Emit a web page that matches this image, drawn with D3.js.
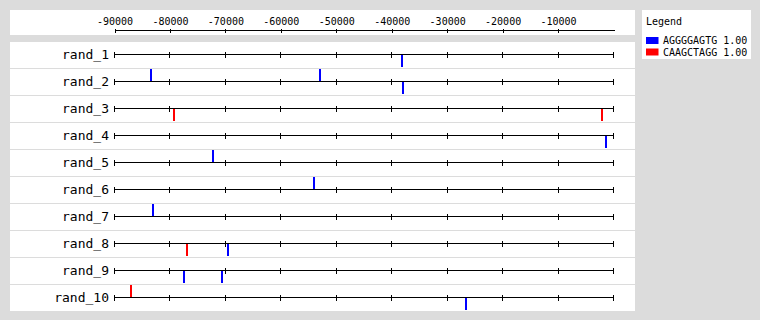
<!DOCTYPE html>
<html>
<head>
<meta charset="utf-8">
<script src="https://cdn.jsdelivr.net/npm/d3@7"></script>
<style>
  body { margin: 0; background: #dcdcdc; }
  svg text { font-family: "DejaVu Sans Mono", monospace; fill: #000; }
</style>
</head>
<body>
<script>
// sequences (rows) and motifs
const seqNames = ["rand_1", "rand_2", "rand_3", "rand_4", "rand_5",
                  "rand_6", "rand_7", "rand_8", "rand_9", "rand_10"];
const motifNames = ["AGGGGAGTG", "CAAGCTAGG"];
const motifScores = ["1.00", "1.00"];
const tickVals = [-90000, -80000, -70000, -60000, -50000, -40000, -30000, -20000, -10000];

// motif sites
const siteSeq    = ["rand_1", "rand_2", "rand_2", "rand_2", "rand_3", "rand_3", "rand_4",
                    "rand_5", "rand_6", "rand_7", "rand_8", "rand_8", "rand_9", "rand_9",
                    "rand_10", "rand_10"];
const sitePos    = [-38100, -83500, -52900, -37900, -79200, -2050, -1300,
                    -72150, -54000, -83000, -76850, -69450, -77400, -70700,
                    -87000, -26550];
const siteMotif  = [0, 0, 0, 0, 1, 1, 0, 0, 0, 0, 1, 0, 0, 0, 1, 0];
const siteStrand = ["-", "+", "+", "-", "-", "-", "-", "+", "+", "+", "-", "-", "-", "-", "+", "-"];

const motifColor = d3.scaleOrdinal().domain([0, 1]).range(["#0000ff", "#ff0000"]);

const W = 760, H = 320;
const rowStep = 27, firstRow = 54.5, barH = 12;

const svg = d3.select("body").append("svg")
    .attr("width", W)
    .attr("height", H)
    .style("display", "block");

const x = d3.scaleLinear().domain([-90000, 0]).range([114.5, 613.5]);
const y = d3.scalePoint().domain(seqNames).range([firstRow, firstRow + rowStep * (seqNames.length - 1)]);

// panels
svg.append("rect").attr("x", 10).attr("y", 10).attr("width", 625).attr("height", 25).attr("fill", "#fff");
svg.append("rect").attr("x", 10).attr("y", 42).attr("width", 625).attr("height", 269).attr("fill", "#fff");
svg.append("rect").attr("x", 642).attr("y", 10).attr("width", 109).attr("height", 49).attr("fill", "#fff");

// top scale
const topAxis = svg.append("g")
    .attr("transform", "translate(0,30.5)")
    .call(d3.axisTop(x).tickValues(tickVals).tickSizeOuter(0).tickSizeInner(2)
      .tickFormat(d => String(d)));
topAxis.select(".domain").attr("d", "M" + x(-90000) + ",0H" + (x(0) + 1)).attr("stroke", "#000");
topAxis.selectAll(".tick line").attr("y1", -2).attr("y2", 2).attr("stroke", "#000");
topAxis.selectAll(".tick text").attr("y", -6).attr("font-size", 10)
    .attr("font-family", "'DejaVu Sans Mono', monospace");
topAxis.attr("shape-rendering", "crispEdges");

// row separators
svg.append("g").selectAll("line")
  .data(seqNames.slice(0, -1))
  .join("line")
    .attr("x1", 10).attr("x2", 635)
    .attr("y1", d => y(d) + 14).attr("y2", d => y(d) + 14)
    .attr("stroke", "#dcdcdc")
    .attr("shape-rendering", "crispEdges");

// rows
const rows = svg.append("g").selectAll("g")
  .data(seqNames)
  .join("g")
    .attr("transform", d => "translate(0," + y(d) + ")")
    .attr("shape-rendering", "crispEdges");

rows.append("line")
    .attr("x1", x(-90000)).attr("x2", x(0))
    .attr("stroke", "#000");

rows.selectAll("line.tick")
  .data(tickVals.concat([0]))
  .join("line")
    .attr("class", "tick")
    .attr("x1", d => x(d)).attr("x2", d => x(d))
    .attr("y1", -3).attr("y2", 3)
    .attr("stroke", "#000");

rows.append("text")
    .attr("x", 109)
    .attr("y", 4)
    .attr("text-anchor", "end")
    .attr("font-size", 13)
    .text(d => d);

// motif sites
svg.append("g").selectAll("rect")
  .data(d3.range(sitePos.length))
  .join("rect")
    .attr("x", i => Math.round(x(sitePos[i])) - 1)
    .attr("y", i => siteStrand[i] === "+" ? y(siteSeq[i]) - 0.5 - barH : y(siteSeq[i]) + 0.5)
    .attr("width", 2)
    .attr("height", barH)
    .attr("fill", i => motifColor(siteMotif[i]));

// legend
const legend = svg.append("g").attr("transform", "translate(646,0)");
legend.append("text").attr("x", 0).attr("y", 25).attr("font-size", 10).text("Legend");
const items = legend.selectAll("g.item")
  .data(d3.range(motifNames.length))
  .join("g")
    .attr("class", "item")
    .attr("transform", i => "translate(0," + (37 + i * 11.5) + ")");
items.append("rect")
    .attr("width", 12.5).attr("height", 7)
    .attr("fill", i => motifColor(i));
items.append("text")
    .attr("x", 17).attr("y", 7)
    .attr("font-size", 10)
    .text(i => motifNames[i] + " " + motifScores[i]);
</script>
</body>
</html>
